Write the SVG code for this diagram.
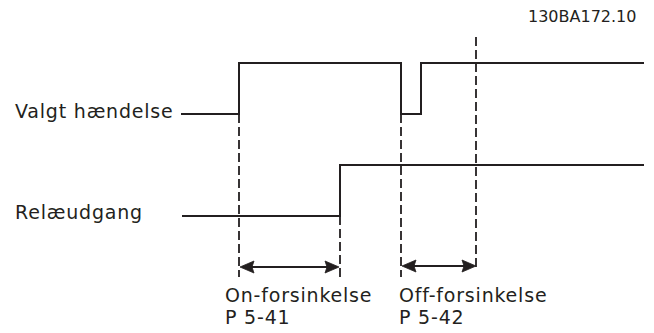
<svg xmlns="http://www.w3.org/2000/svg" width="654" height="333" viewBox="0 0 654 333">
<style>
text{font-family:"DejaVu Sans",Verdana,sans-serif;fill:#231f20}
.lbl{font-size:19px;letter-spacing:0.8px}
.sig{fill:none;stroke:#231f20;stroke-width:2}
.dash{fill:none;stroke:#231f20;stroke-width:1.8;stroke-dasharray:9 4}
.line{fill:none;stroke:#231f20;stroke-width:2}
.head{fill:#231f20;stroke:#231f20;stroke-width:0.8;stroke-linejoin:miter}
</style>
<text x="528" y="22" font-size="16">130BA172.10</text>
<g id="valgt">
<text class="lbl" x="15" y="118">Valgt hændelse</text>
</g>
<g id="relae">
<text class="lbl" x="15" y="219">Relæudgang</text>
</g>
<g id="on">
<text class="lbl" x="225" y="302">On-forsinkelse</text>
<text class="lbl" x="225" y="324">P 5-41</text>
</g>
<g id="off">
<text class="lbl" x="399" y="302">Off-forsinkelse</text>
<text class="lbl" x="399" y="324">P 5-42</text>
</g>
<g id="connectors">
<path class="sig" d="M181,114 H239 V63 H401 V114 H421 V63 H644"/>
<path class="sig" d="M182,216 H340 V165 H644"/>
<path class="dash" d="M239,114 V277"/>
<path class="dash" d="M340,216 V277"/>
<path class="dash" d="M401,114 V277"/>
<path class="dash" d="M476,37 V270"/>
<path class="line" d="M245,267 H334"/>
<path class="head" d="M240,267 L254,261 L252,267 L254,273 Z"/>
<path class="head" d="M339,267 L325,261 L327,267 L325,273 Z"/>
<path class="line" d="M407,266 H471"/>
<path class="head" d="M402,266 L416,260 L414,266 L416,272 Z"/>
<path class="head" d="M476,266 L462,260 L464,266 L462,272 Z"/>
</g>
</svg>
